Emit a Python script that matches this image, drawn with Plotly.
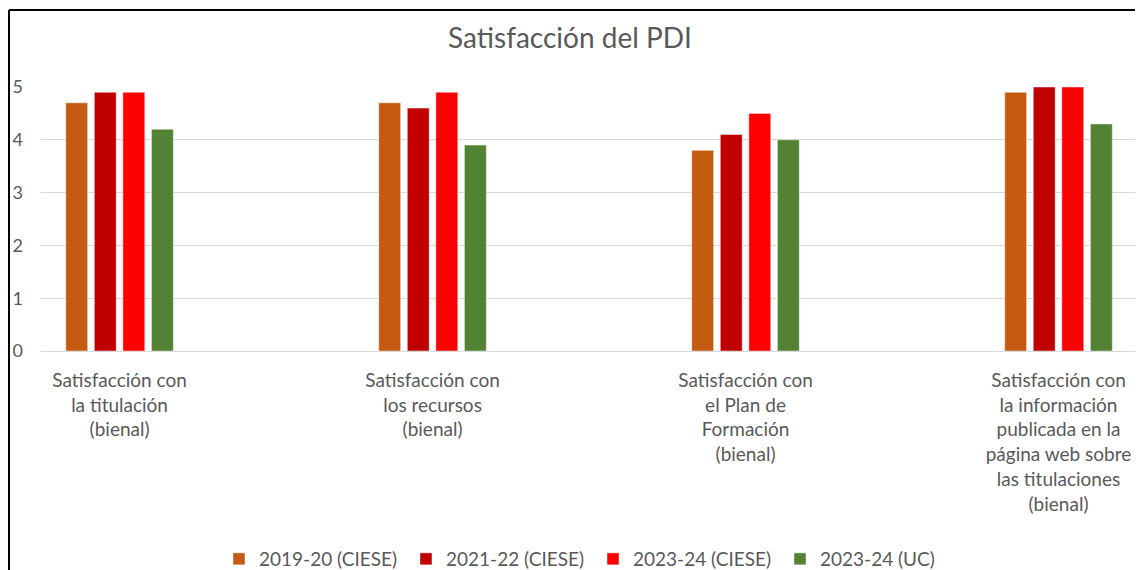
import plotly.graph_objects as go

categories = [
    "Satisfacción con<br>la titulación<br>(bienal)",
    "Satisfacción con<br>los recursos<br>(bienal)",
    "Satisfacción con<br>el Plan de<br>Formación<br>(bienal)",
    "Satisfacción con<br>la información<br>publicada en la<br>página web sobre<br>las titulaciones<br>(bienal)",
]
series_names = ["2019-20 (CIESE)", "2021-22 (CIESE)", "2023-24 (CIESE)", "2023-24 (UC)"]
s2019_ciese = [4.7, 4.7, 3.8, 4.9]
s2021_ciese = [4.9, 4.6, 4.1, 5.0]
s2023_ciese = [4.9, 4.9, 4.5, 5.0]
s2023_uc = [4.2, 3.9, 4.0, 4.3]
colors = ["#C55A11", "#C00000", "#FF0000", "#548235"]
y_ticks = [0, 1, 2, 3, 4, 5]

fig = go.Figure()
for name, vals, col in zip(series_names, [s2019_ciese, s2021_ciese, s2023_ciese, s2023_uc], colors):
    fig.add_trace(go.Bar(
        x=categories, y=vals, name=name,
        marker=dict(color=col, line=dict(color="rgba(255,255,255,0.45)", width=1)),
    ))

font_family = "Lato, 'Open Sans', sans-serif"
W, H = 1135, 562
L, T, B = 33, 79, 219
PW = W - L
PH = H - T - B
fig.update_layout(
    width=W, height=H,
    margin=dict(l=L, r=0, t=T, b=B, pad=0, autoexpand=False),
    paper_bgcolor="white", plot_bgcolor="white",
    barmode="group", bargap=0.635, bargroupgap=0.233,
    title=dict(text="Satisfacción del PDI", x=562 / W, xref="container", xanchor="center",
               y=1 - 30 / H, yanchor="middle",
               font=dict(family=font_family, size=28, color="#595959")),
    font=dict(family=font_family, size=16, color="#595959"),
    xaxis=dict(range=[-0.251, 3.27], showgrid=False, showline=False, zeroline=False,
               ticks="", tickfont=dict(size=19, color="#595959"), ticklabelstandoff=16,
               tickangle=0, fixedrange=True),
    yaxis=dict(range=[0, 5], tickvals=y_ticks, showgrid=True, gridcolor="#D9D9D9",
               gridwidth=1, zeroline=True, zerolinecolor="#D9D9D9", zerolinewidth=1,
               showline=False, ticks="", tickfont=dict(size=18, color="#595959"),
               ticklabelstandoff=17, fixedrange=True),
    legend=dict(orientation="h", x=(211 - L) / PW, xanchor="left",
                y=-(551 - (T + PH)) / PH, yanchor="middle",
                font=dict(family=font_family, size=19, color="#595959"),
                itemwidth=30, entrywidth=142, entrywidthmode="pixels",
                traceorder="normal", bgcolor="rgba(0,0,0,0)"),
    showlegend=True,
)

# chart frame (left and top edges visible in the crop)
fx = -(L - 1) / PW
fy = 1 + (T - 2) / PH
fig.add_shape(type="line", xref="paper", yref="paper",
              x0=fx, x1=fx, y0=fy, y1=-(B + 20) / PH,
              line=dict(color="black", width=2), layer="above")
fig.add_shape(type="line", xref="paper", yref="paper",
              x0=fx, x1=1.05, y0=fy, y1=fy,
              line=dict(color="black", width=2), layer="above")

fig.write_html("out.html")
